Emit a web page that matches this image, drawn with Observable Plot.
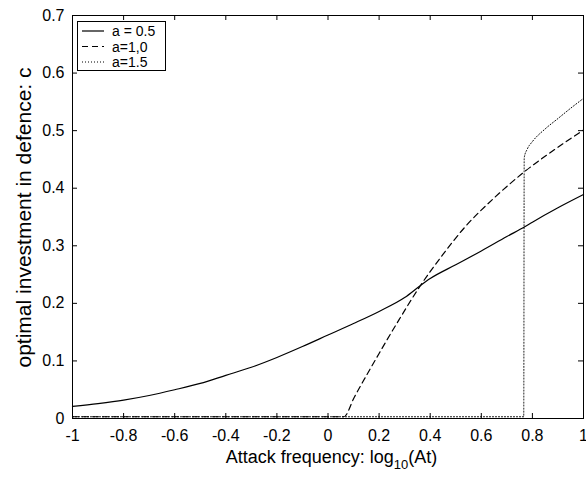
<!DOCTYPE html>
<html>
<head>
<meta charset="utf-8">
<script src="https://cdn.jsdelivr.net/npm/d3@7"></script>
<script src="https://cdn.jsdelivr.net/npm/@observablehq/plot@0.6"></script>
<style>
  body { margin: 0; background: white; }
  #wrap { position: relative; width: 586px; height: 482px; }
  #legend { position: absolute; left: 77px; top: 21px; }
</style>
</head>
<body>
<div id="wrap"></div>
<script>
const xTicks = [-1, -0.8, -0.6, -0.4, -0.2, 0, 0.2, 0.4, 0.6, 0.8, 1];
const yTicks = [0, 0.1, 0.2, 0.3, 0.4, 0.5, 0.6, 0.7];

const seriesNames = ["a = 0.5", "a=1,0", "a=1.5"];

// a = 0.5 (solid)
const xA05 = [-1, -0.9, -0.8, -0.7, -0.6, -0.5, -0.4, -0.3, -0.2, -0.1, 0, 0.1, 0.2, 0.3, 0.362, 0.4, 0.5, 0.6, 0.7, 0.77, 0.8, 0.9, 1];
const cA05 = [0.021, 0.026, 0.032, 0.040, 0.050, 0.061, 0.075, 0.089, 0.106, 0.125, 0.145, 0.165, 0.186, 0.210, 0.231, 0.243, 0.267, 0.291, 0.316, 0.333, 0.341, 0.366, 0.389];

// a = 1.0 (dashed)
const xA10 = [-1, 0.062, 0.103, 0.2, 0.28, 0.362, 0.45, 0.535, 0.65, 0.77, 0.88, 1];
const cA10 = [0.003, 0.003, 0.037, 0.113, 0.173, 0.231, 0.285, 0.332, 0.383, 0.429, 0.465, 0.501];

// a = 1.5 (dotted)
const xA15 = [-1, 0.766, 0.768, 0.78, 0.80, 0.85, 0.9, 0.95, 1];
const cA15 = [0.003, 0.003, 0.453, 0.468, 0.481, 0.503, 0.521, 0.539, 0.556];

const toRows = (xs, cs) => xs.map((x, i) => ({x, c: cs[i]}));
const dA05 = toRows(xA05, cA05);
const dA10 = toRows(xA10, cA10);
const dA15 = toRows(xA15, cA15);

const W = 586, H = 482, mL = 72, mR = 3, mT = 15, mB = 64;
const pw = W - mL - mR, ph = H - mT - mB;
const tl = 5;

const fmt = d => String(+d.toFixed(2));

const chart = Plot.plot({
  width: W, height: H,
  marginLeft: mL, marginRight: mR, marginTop: mT, marginBottom: mB,
  x: {domain: [-1, 1]},
  y: {domain: [0, 0.7]},
  style: {fontFamily: "'Liberation Sans', Arial, sans-serif", background: "white", color: "black"},
  marks: [
    Plot.axisX({ticks: xTicks, tickSize: 0, tickPadding: 11, tickFormat: fmt, fontSize: 16, label: null}),
    Plot.axisY({ticks: yTicks, tickSize: 0, tickPadding: 8, tickFormat: fmt, fontSize: 16, label: null}),
    Plot.tickX(xTicks, {x: d => d, insetTop: ph - tl, stroke: "black"}),
    Plot.tickX(xTicks, {x: d => d, insetBottom: ph - tl, stroke: "black"}),
    Plot.tickY(yTicks, {y: d => d, insetRight: pw - tl, stroke: "black"}),
    Plot.tickY(yTicks, {y: d => d, insetLeft: pw - tl, stroke: "black"}),
    Plot.line(dA15, {x: "x", y: "c", curve: "monotone-x", stroke: "black", strokeWidth: 1, strokeDasharray: "1,2"}),
    Plot.line(dA10, {x: "x", y: "c", curve: "monotone-x", stroke: "black", strokeWidth: 1.2, strokeDasharray: "6,4"}),
    Plot.line(dA05, {x: "x", y: "c", curve: "monotone-x", stroke: "black", strokeWidth: 1.2}),
    Plot.frame({stroke: "black"})
  ]
});

const svg = d3.select(chart);
// y axis label
svg.append("text")
  .attr("transform", `translate(31, ${mT + ph / 2 + 1}) rotate(-90)`)
  .attr("text-anchor", "middle")
  .attr("font-size", 21)
  .attr("font-family", "'Liberation Sans', Arial, sans-serif")
  .attr("fill", "black")
  .text("optimal investment in defence: c");
// x axis label with subscript
const xl = svg.append("text")
  .attr("x", mL + pw / 2 + 4)
  .attr("y", 463)
  .attr("text-anchor", "middle")
  .attr("font-size", 18)
  .attr("font-family", "'Liberation Sans', Arial, sans-serif")
  .attr("fill", "black");
xl.append("tspan").text("Attack frequency: log");
xl.append("tspan").attr("font-size", 13).attr("dy", 6).text("10");
xl.append("tspan").attr("dy", -6).text("(At)");

document.getElementById("wrap").appendChild(chart);

// legend
const lg = d3.select("#wrap").append("svg")
  .attr("id", "legend")
  .attr("width", 90).attr("height", 51);
lg.append("rect").attr("x", 0.5).attr("y", 0.5).attr("width", 88).attr("height", 49)
  .attr("fill", "white").attr("stroke", "black");
const dashes = [null, "6,4", "1,2"];
seriesNames.forEach((name, i) => {
  const yy = 10 + i * 15.5;
  lg.append("line").attr("x1", 5).attr("x2", 27).attr("y1", yy).attr("y2", yy)
    .attr("stroke", "black").attr("stroke-width", 1.2)
    .attr("stroke-dasharray", dashes[i]);
  lg.append("text").attr("x", 35).attr("y", yy + 5)
    .attr("font-size", 14)
    .attr("font-family", "'Liberation Sans', Arial, sans-serif")
    .attr("fill", "black").text(name);
});
</script>
</body>
</html>
